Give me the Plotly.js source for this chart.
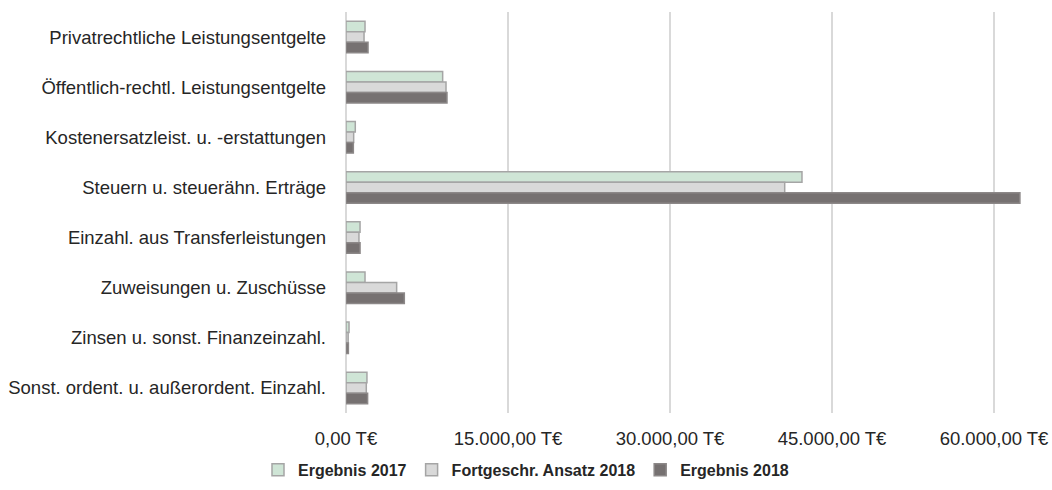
<!DOCTYPE html>
<html>
<head>
<meta charset="utf-8">
<script src="https://cdn.plot.ly/plotly-3.0.1.min.js"></script>
<style>html,body{margin:0;padding:0;background:#fff;}</style>
</head>
<body>
<div id="chart" style="width:1052px;height:490px;"></div>
<script>
const categories = [
  "Privatrechtliche Leistungsentgelte",
  "Öffentlich-rechtl. Leistungsentgelte",
  "Kostenersatzleist. u. -erstattungen",
  "Steuern u. steuerähn. Erträge",
  "Einzahl. aus Transferleistungen",
  "Zuweisungen u. Zuschüsse",
  "Zinsen u. sonst. Finanzeinzahl.",
  "Sonst. ordent. u. außerordent. Einzahl."
];
const ergebnis2017 = [1760, 8950, 860, 42220, 1300, 1760, 280, 1940];
const ansatz2018   = [1670, 9260, 710, 40620, 1200, 4690, 200, 1880];
const ergebnis2018 = [2040, 9350, 680, 62400, 1300, 5400, 220, 2000];
const tickVals = [0, 15000, 30000, 45000, 60000];
const tickLabels = ["0,00 T€", "15.000,00 T€", "30.000,00 T€", "45.000,00 T€", "60.000,00 T€"];
const seriesNames = ["Ergebnis 2017", "Fortgeschr. Ansatz 2018", "Ergebnis 2018"];

const fills = ["#cfe5d6", "#d9d9d9", "#767171"];
const lines = ["#a5a5a5", "#a5a5a5", "#8c8888"];
const values = [ergebnis2017, ansatz2018, ergebnis2018];

const traces = values.map((v, i) => ({
  type: "bar",
  orientation: "h",
  name: seriesNames[i],
  y: categories,
  x: v,
  marker: {color: fills[i], line: {color: lines[i], width: 1.5}},
  hoverinfo: "x+y"
}));

const layout = {
  width: 1052, height: 490,
  margin: {l: 346, r: 4, t: 12, b: 77},
  paper_bgcolor: "#fff", plot_bgcolor: "#fff",
  font: {family: "Liberation Sans, Arial, sans-serif", size: 18.5, color: "#262626"},
  barmode: "group",
  bargap: 0.37,
  bargroupgap: 0,
  xaxis: {
    range: [0, 65000],
    tickvals: tickVals,
    ticktext: tickLabels,
    showgrid: true, gridcolor: "#d9d9d9", gridwidth: 2,
    zeroline: true, zerolinecolor: "#d9d9d9", zerolinewidth: 2,
    showline: false, ticks: "",
    ticklabelstandoff: 12,
    tickfont: {size: 18.5, color: "#262626"},
    fixedrange: true
  },
  yaxis: {
    autorange: "reversed",
    showgrid: false, zeroline: false, showline: false, ticks: "",
    ticklabelstandoff: 19,
    tickfont: {size: 18.5, color: "#262626"},
    fixedrange: true
  },
  legend: {
    orientation: "h",
    xref: "container", x: 0.5, xanchor: "center",
    yref: "container", y: 0.041, yanchor: "middle",
    font: {size: 16, color: "#262626", weight: "bold"},
    traceorder: "normal",
    itemwidth: 30
  },
  showlegend: true
};

Plotly.newPlot("chart", traces, layout, {displayModeBar: false});
</script>
</body>
</html>
